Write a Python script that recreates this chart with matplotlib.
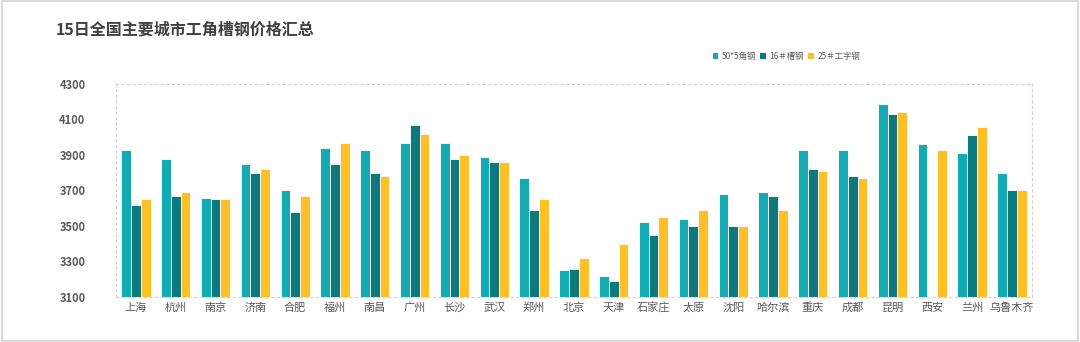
import numpy as np
import matplotlib
matplotlib.use("Agg")
import matplotlib.pyplot as plt
from matplotlib.patches import Rectangle

plt.rcParams['font.family'] = ['Noto Sans CJK SC', 'DejaVu Sans']

# data
cities = ["上海", "杭州", "南京", "济南", "合肥", "福州", "南昌", "广州", "长沙", "武汉",
          "郑州", "北京", "天津", "石家庄", "太原", "沈阳", "哈尔滨", "重庆", "成都",
          "昆明", "西安", "兰州", "乌鲁木齐"]
angle_steel = [3930, 3880, 3660, 3850, 3700, 3940, 3930, 3970, 3970, 3890,
               3770, 3250, 3220, 3520, 3540, 3680, 3690, 3930, 3930,
               4190, 3960, 3910, 3800]
channel_steel = [3620, 3670, 3650, 3800, 3580, 3850, 3800, 4070, 3880, 3860,
                 3590, 3260, 3190, 3450, 3500, 3500, 3670, 3820, 3780,
                 4130, np.nan, 4010, 3700]
i_beam = [3650, 3690, 3650, 3820, 3670, 3970, 3780, 4020, 3900, 3860,
          3650, 3320, 3400, 3550, 3590, 3500, 3590, 3810, 3770,
          4140, 3930, 4060, 3700]
series_names = ["50*5角钢", "16＃槽钢", "25＃工字钢"]
colors = ["#14AAB1", "#0C7A7D", "#FFBF27"]
yticks = [3100, 3300, 3500, 3700, 3900, 4100, 4300]

fig = plt.figure(figsize=(10.8, 3.42), dpi=100)
fig.patches.append(Rectangle((0.002, 0.003), 0.996, 0.994, transform=fig.transFigure,
                             fill=False, edgecolor="#d9d9d9", linewidth=1.5))
ax = fig.add_axes([0.1074, 0.1316, 0.848, 0.6228])

x = np.arange(len(cities))
w = 0.245
for i, (vals, c, name) in enumerate(zip([angle_steel, channel_steel, i_beam], colors, series_names)):
    ax.bar(x + (i - 1) * w, np.array(vals) - 3100, bottom=3100, width=w,
           color=c, edgecolor="white", linewidth=0.6, label=name)

ax.set_xlim(-0.5, len(cities) - 0.5)
ax.set_ylim(3100, 4300)
ax.set_yticks(yticks)
ax.set_yticklabels([str(t) for t in yticks], fontsize=8, color="#595959", fontweight="bold")
ax.set_xticks(x)
ax.set_xticklabels(cities, fontsize=8, color="#595959")
ax.tick_params(axis="x", length=0, pad=4)
ax.tick_params(axis="y", length=0, pad=22)

for s in ax.spines.values():
    s.set_linestyle((0, (2, 3)))
    s.set_color("#d0d0d0")
    s.set_linewidth(0.8)

fig.text(0.052, 0.915, "15日全国主要城市工角槽钢价格汇总", fontsize=11.5, fontweight="bold",
         color="#404040", va="center")

leg = fig.legend(loc="center", bbox_to_anchor=(0.728, 0.835), ncol=3, frameon=False,
                 fontsize=6, handlelength=0.7, handleheight=0.7, handletextpad=0.4,
                 columnspacing=0.5, labelcolor="#595959")
for h in leg.legend_handles:
    h.set_edgecolor("none")

fig.savefig("out.png", dpi=100, facecolor="white")
